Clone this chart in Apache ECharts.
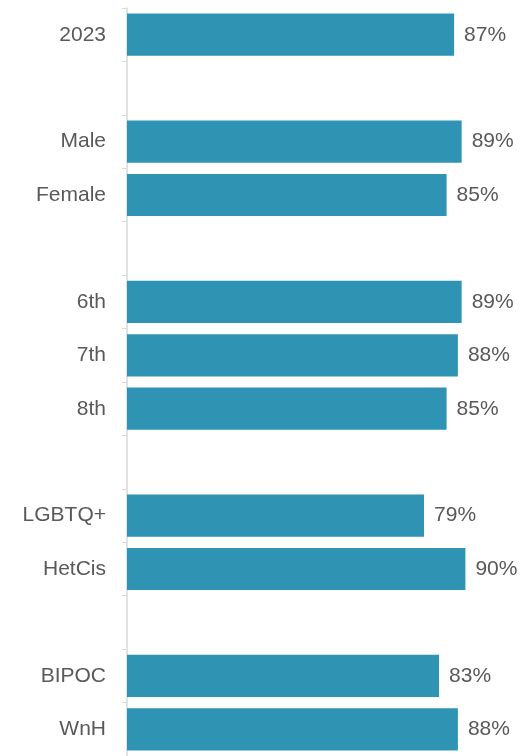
<!DOCTYPE html>
<html>
<head>
<meta charset="utf-8">
<script src="https://cdn.jsdelivr.net/npm/echarts@6/dist/echarts.min.js"></script>
<style>
  html,body{margin:0;padding:0;background:#fff;}
  #chart{width:526px;height:756px;}
</style>
</head>
<body>
<div id="chart"></div>
<script>
// groups separated by blank rows
const categories=['2023','','Male','Female','','6th','7th','8th','','LGBTQ+','HetCis','','BIPOC','WnH']
const values=[87,'-',89,85,'-',89,88,85,'-',79,90,'-',83,88]

const chart=echarts.init(document.getElementById('chart'))
const textFont='"Liberation Sans", Arial, sans-serif'

let option={
  animation:false,
  grid:{left:127,right:23,top:8,bottom:-4,containLabel:false},
  xAxis:{
    type:'value',
    min:0,
    max:100,
    show:false,
    splitLine:{show:false}
  },
  yAxis:{
    type:'category',
    inverse:true,
    data:categories,
    axisLine:{lineStyle:{color:'#d9d9d9',width:1.5}},
    axisTick:{show:true,length:5,interval:0,lineStyle:{color:'#d9d9d9'}},
    axisLabel:{
      interval:0,
      margin:21,
      color:'#595959',
      fontSize:21,
      fontFamily:textFont,
      padding:[4,0,0,0]
    }
  },
  series:[
    {
      type:'bar',
      data:values,
      barCategoryGap:'21%',
      itemStyle:{color:'#2f94b4'},
      label:{
        show:true,
        position:'right',
        distance:10,
        formatter:'{c}%',
        color:'#595959',
        fontSize:21,
        fontFamily:textFont,
        padding:[4,0,0,0]
      }
    }
  ]
}
chart.setOption(option)
</script>
</body>
</html>
